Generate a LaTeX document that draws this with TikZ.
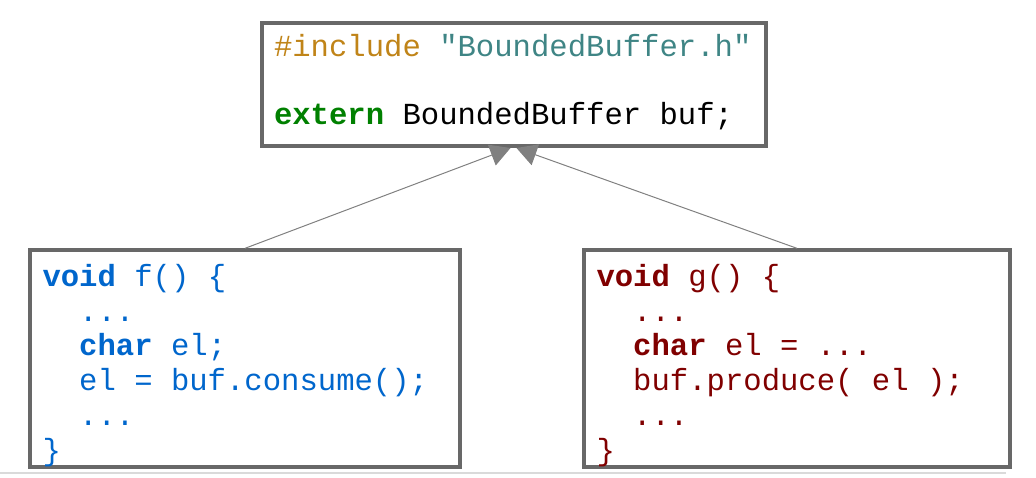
\documentclass[tikz,border=0pt]{standalone}
\usepackage{fontspec}
\setmonofont{Liberation Mono}
\usetikzlibrary{arrows.meta}
\definecolor{boxgray}{HTML}{686868}
\definecolor{arrowgray}{HTML}{808080}
\definecolor{rulegray}{HTML}{DADADA}
\definecolor{incgold}{HTML}{C08418}
\definecolor{strteal}{HTML}{3F8585}
\definecolor{kwgreen}{HTML}{008000}
\definecolor{fblue}{HTML}{0066CC}
\definecolor{gred}{HTML}{800000}
\newcommand\codefont{\ttfamily\fontsize{15.3}{17.4}\selectfont}
\newcommand\sk{\hphantom{x}}
\newcommand\ind{\hphantom{xx}}
\newcommand\topgap{\rule{0pt}{18pt}}
\begin{document}
\begin{tikzpicture}[x=0.5pt, y=-0.5pt,
  codebox/.style={draw=boxgray, line width=2pt, align=left,
    inner xsep=6.25pt, inner ysep=0pt, minimum height=106.5pt,
    font=\codefont},
  uses/.style={draw=arrowgray, line width=0.5pt,
    -{Triangle[length=10pt,width=11pt]}}]
\useasboundingbox (0,0) rectangle (1036,477);
\node[codebox, text width=239.5pt, minimum height=61.5pt] (header) at (513.5,84.5)
  {\textcolor{incgold}{\#include}\sk\textcolor{strteal}{"BoundedBuffer.h"}\\[16.9pt]
   \textcolor{kwgreen}{\bfseries extern}\sk BoundedBuffer\sk buf;\rule[-5pt]{0pt}{0pt}};
\node[codebox, text=fblue, text width=202.5pt] (consumer) at (245,358.5)
  {\topgap\textbf{void}\sk f()\sk\{\\
   \ind...\\
   \ind\textbf{char}\sk el;\\
   \ind el\sk=\sk buf.consume();\\
   \ind...\\
   \}};
\node[codebox, text=gred, text width=200.5pt] (producer) at (797,358.5)
  {\topgap\textbf{void}\sk g()\sk\{\\
   \ind...\\
   \ind\textbf{char}\sk el\sk=\sk...\\
   \ind buf.produce(\sk el\sk);\\
   \ind...\\
   \}};
\draw[uses] (consumer.north) -- ([xshift=-1.5pt]header.south);
\draw[uses] (producer.north) -- ([xshift=1.5pt]header.south);
\draw[rulegray, line width=1pt] (0,473) -- (1006,473);
\end{tikzpicture}
\end{document}
